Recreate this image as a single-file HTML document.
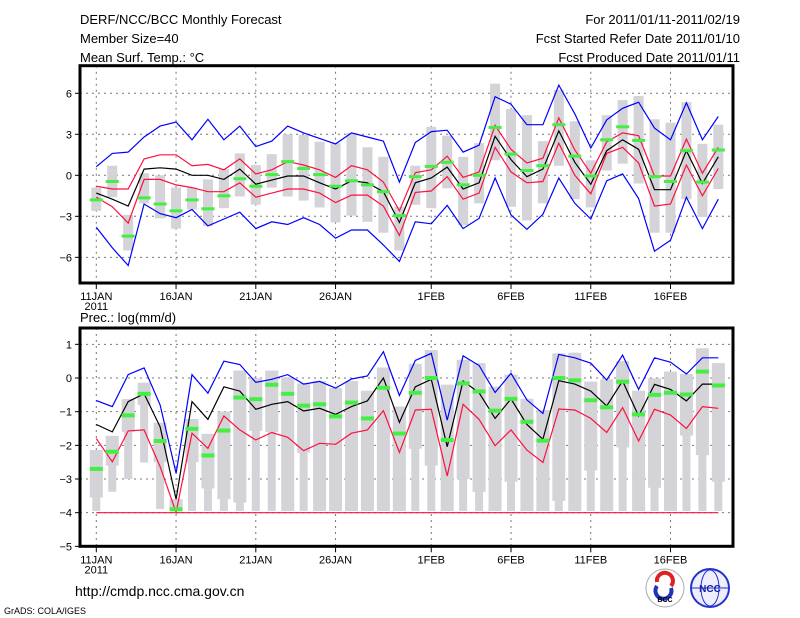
<!DOCTYPE html>
<html><head><meta charset="utf-8"><style>
body{margin:0;background:#fff;}
svg{display:block;font-family:"Liberation Sans",sans-serif;}
</style></head><body>
<svg id="chart" width="800" height="618" viewBox="0 0 800 618" xmlns="http://www.w3.org/2000/svg">
<rect width="800" height="618" fill="#fff"/>
<g font-size="13" fill="#000">
<text x="80" y="24">DERF/NCC/BCC Monthly Forecast</text>
<text x="80" y="43">Member Size=40</text>
<text x="80" y="62">Mean Surf. Temp.: °C</text>
<text x="740" y="24" text-anchor="end">For 2011/01/11-2011/02/19</text>
<text x="740" y="43" text-anchor="end">Fcst Started Refer Date 2011/01/10</text>
<text x="740" y="62" text-anchor="end">Fcst Produced Date 2011/01/11</text>
</g>
<text x="80" y="322" font-size="13">Prec.: log(mm/d)</text>
<g id="top"></g>
<g id="bot"></g>
<text x="75" y="596" font-size="14">http://cmdp.ncc.cma.gov.cn</text>
<text x="4" y="614" font-size="9">GrADS: COLA/IGES</text>
<g>
<circle cx="665" cy="588" r="19" fill="#fff" stroke="#aaa"/>
<path d="M657 582a8 8 0 1 1 14 4" stroke="#d22" stroke-width="4" fill="none"/>
<path d="M671 588a8 8 0 1 1 -14 -2" stroke="#23b" stroke-width="4" fill="none"/>
<text x="665" y="602" font-size="7" text-anchor="middle" font-weight="bold">BCC</text>
</g>
<g>
<circle cx="710" cy="588" r="19" fill="#eef" stroke="#23c" stroke-width="2"/>
<ellipse cx="710" cy="588" rx="9" ry="18" fill="none" stroke="#23c"/>
<line x1="692" y1="588" x2="728" y2="588" stroke="#23c"/>
<text x="710" y="592" font-size="10" text-anchor="middle" fill="#12a" font-weight="bold">NCC</text>
</g>
</svg>
<script>
// ---- Temperature panel data ----
const days = ["11JAN","12","13","14","15","16JAN","17","18","19","20","21JAN","22","23","24","25","26JAN","27","28","29","30","31","1FEB","2","3","4","5","6FEB","7","8","9","10","11FEB","12","13","14","15","16FEB","17","18","19"];
const tBlueHi = [0.63,1.6,1.7,2.8,3.6,3.9,2.6,4.1,2.6,3.6,2.1,2.5,3.6,3.1,2.7,2.3,3.1,2.8,2.5,-0.5,2.4,3.2,3.3,1.7,2.2,5.75,5.2,3.7,3.7,6.6,4.5,2.0,4.05,4.9,5.35,3.45,2.6,5.3,2.6,4.3];
const tBlueLo = [-3.8,-5.3,-6.6,-2.1,-2.8,-3.1,-2.5,-3.7,-3.2,-2.7,-3.9,-3.4,-3.6,-3.1,-3.6,-4.6,-4.0,-4.0,-5.1,-6.3,-3.4,-3.55,-2.2,-3.9,-3.15,-0.2,-2.9,-3.95,-2.85,-0.2,-2.05,-3.2,-0.4,0.1,-1.7,-5.55,-4.75,-1.6,-3.9,-1.75];
const tRedHi = [-0.8,-1.0,-1.0,1.2,1.5,1.5,0.7,0.8,0.4,1.2,0.1,0.4,1.0,0.75,0.4,-0.15,0.7,0.4,-0.5,-2.6,0.2,0.4,1.4,-0.15,0.25,3.65,1.9,0.9,1.25,4.2,1.85,0.15,2.45,3.1,2.9,-0.05,-0.05,2.65,0.15,2.05];
const tRedLo = [-1.6,-2.3,-3.5,-0.3,-0.3,-0.7,-0.9,-1.2,-1.2,-0.55,-1.6,-1.3,-1.0,-1.0,-1.3,-2.0,-1.45,-1.45,-2.25,-4.4,-1.25,-1.15,-0.1,-1.75,-1.3,2.05,0.25,-0.55,-0.45,2.35,0,-1.35,1.6,2.05,0.9,-2.25,-2.1,0.75,-1.5,0.5];
const tMean = [-1.3,-1.75,-2.25,0.45,0.55,0.45,0,0,-0.3,0.45,-0.65,-0.35,-0.05,-0.05,-0.55,-1.0,-0.4,-0.55,-1.2,-3.45,-0.55,-0.2,0.6,-1.0,-0.55,2.85,1.15,-0.1,0.45,3.25,0.95,-0.65,1.8,2.6,1.9,-1.05,-1.05,1.8,-0.6,1.35];
const tObs = [-1.8,-0.45,-4.45,-1.65,-2.1,-2.6,-1.8,-2.45,-1.5,-0.25,-0.8,0.05,1.0,0.5,0.05,-0.8,-0.4,-0.7,-1.2,-2.95,-0.1,0.65,0.95,-0.7,0.0,3.5,1.55,0.35,0.7,3.7,1.4,-0.05,2.6,3.55,2.55,-0.1,-0.45,1.8,-0.5,1.85];
const tMax = [-0.9,0.7,-2.9,0.15,0,-0.9,-0.9,-0.3,0.45,1.6,0.75,1.55,3.0,2.95,2.45,2.35,3.1,2.05,1.35,-2.3,0.7,3.55,2.9,1.35,2.35,6.7,4.85,4.4,2.5,6.25,3.95,1.1,4.4,5.5,5.8,4.1,3.85,5.35,2.3,3.7];
const tMin = [-2.6,-1.6,-5.5,-2.05,-3.15,-3.9,-2.5,-3.7,-2.4,-1.55,-2.15,-0.9,-1.55,-1.85,-2.35,-3.45,-2.95,-3.4,-4.2,-5.5,-2.15,-2.4,-0.95,-3.65,-2.05,1.1,-2.3,-3.3,-2.05,0.7,-1.75,-2.35,0.35,0.85,-0.6,-4.2,-4.2,-1.75,-3.05,-1.0];
const tTicks = [-6,-3,0,3,6];
// ---- Precip panel data ----
const pBlue = [-0.67,-0.85,0.1,0.3,-0.8,-2.83,0.1,-0.45,0.5,0.4,-0.13,-0.04,0.1,-0.18,-0.1,-0.3,-0.03,0.06,0.78,-0.52,0.52,0.73,-1.25,0.66,0.37,-0.43,0.14,-0.65,-1.05,0.7,0.6,0.44,-0.06,0.68,-0.34,0.6,0.47,0.12,0.6,0.6];
const pMean = [-1.38,-1.6,-0.7,-0.47,-1.45,-3.6,-0.7,-1.23,-0.26,-0.39,-0.93,-0.78,-0.7,-0.98,-0.9,-1.08,-0.85,-0.68,0.0,-1.32,-0.26,-0.04,-2.04,-0.09,-0.44,-1.2,-0.62,-1.38,-1.82,-0.08,-0.18,-0.39,-0.83,-0.09,-1.13,-0.19,-0.34,-0.68,-0.18,-0.18];
const pRed = [-1.8,-2.49,-1.57,-1.54,-2.63,-3.99,-1.64,-2.09,-1.13,-1.54,-1.84,-1.62,-1.76,-2.16,-1.94,-1.97,-1.64,-1.54,-0.97,-2.21,-0.95,-0.93,-2.91,-0.78,-1.23,-2.01,-1.54,-2.14,-2.51,-0.92,-0.95,-1.2,-1.62,-0.88,-1.87,-0.93,-1.1,-1.5,-0.85,-0.9];
const pObs = [-2.7,-2.19,-1.11,-0.47,-1.87,-3.9,-1.51,-2.3,-1.56,-0.58,-0.63,-0.2,-0.47,-0.82,-0.78,-1.14,-0.73,-1.2,-0.29,-1.65,-0.44,0.0,-1.84,-0.16,-0.4,-0.97,-0.62,-1.3,-1.86,0.0,-0.07,-0.66,-0.87,-0.11,-1.08,-0.5,-0.44,-0.49,0.19,-0.22];
const pMax = [-2.14,-1.72,-0.63,-0.14,-1.33,-3.6,-1.22,-1.66,-1.0,0.22,0,0.22,0.02,-0.16,-0.09,-0.3,-0.09,-0.38,0.31,-0.85,0.42,0.83,-0.2,0.54,0.44,-0.26,0.1,-0.62,-0.95,0.73,0.75,-0.11,-0.04,0.5,-0.38,-0.01,0.19,0.12,0.88,0.44];
const pMin = [-3.95,-3.38,-3.0,-2.51,-3.89,-3.95,-3.95,-3.95,-3.95,-3.95,-3.95,-3.95,-3.95,-3.95,-3.95,-3.95,-3.95,-3.95,-3.95,-3.95,-3.95,-3.95,-3.95,-3.95,-3.95,-3.95,-3.95,-3.95,-3.95,-3.95,-3.95,-3.95,-3.95,-3.95,-3.95,-3.95,-3.95,-3.95,-3.95,-3.95];
const pQ1 = [-3.55,-2.6,-1.6,-0.8,-2.5,-3.95,-2.5,-3.28,-3.6,-3.7,-1.57,-1.6,-3.95,-2.22,-3.95,-3.95,-3.95,-3.95,-3.95,-3.95,-2.1,-2.6,-3.95,-3.0,-3.38,-3.95,-3.08,-3.95,-3.95,-3.65,-3.95,-2.75,-3.95,-2.06,-3.95,-3.26,-3.95,-1.71,-2.29,-3.08];
const pTicks = [-5,-4,-3,-2,-1,0,1];
const dateLabels = ["11JAN","16JAN","21JAN","26JAN","1FEB","6FEB","11FEB","16FEB"];
const dateIdx = [0,5,10,15,21,26,31,36];

const NS="http://www.w3.org/2000/svg";
const X0=80, X1=733;
function xs(i){return 96.3+15.95*i;}
function mk(tag,attrs,parent){const e=document.createElementNS(NS,tag);for(const k in attrs)e.setAttribute(k,attrs[k]);parent.appendChild(e);return e;}

function panel(g, ys, top, bot, ticks, name){
  // grid
  for(let k=0;k<dateIdx.length;k++){
    const l=mk('line',{x1:xs(dateIdx[k]),x2:xs(dateIdx[k]),y1:top,y2:bot,stroke:'#777','stroke-dasharray':'2,4'},g);
    
    
  }
  for(const t of ticks){
    if(ys(t)<=top+1||ys(t)>=bot-1) { } else {
      const l=mk('line',{x1:X0,x2:X1,y1:ys(t),y2:ys(t),stroke:'#777','stroke-dasharray':'2,4'},g);
      
      
    }
    const tk=mk('line',{x1:X0-5,x2:X0,y1:ys(t),y2:ys(t),stroke:'#000'},g);
    
    
    const tx=mk('text',{x:X0-8,y:ys(t)+4,'text-anchor':'end','font-size':'11'},g);
    tx.textContent=(t<0?'\u2212'+(-t):String(t));
    
    
  }
  for(let k=0;k<dateIdx.length;k++){
    const x=xs(dateIdx[k]);
    const tk=mk('line',{x1:x,x2:x,y1:bot,y2:bot+6,stroke:'#000'},g);
    
    
    const tx=mk('text',{x:x,y:bot+17,'text-anchor':'middle','font-size':'11'},g);
    tx.textContent=dateLabels[k];
    
    
  }
  const yr=mk('text',{x:xs(0),y:bot+27,'text-anchor':'middle','font-size':'11'},g);
  yr.textContent='2011';
  
  
}
function line(g,arr,ys,color,name){
  const p=arr.map((v,i)=>xs(i).toFixed(1)+','+ys(v).toFixed(1)).join(' ');
  const e=mk('polyline',{points:p,fill:'none',stroke:color,'stroke-width':1.2},g);
  
  
}
function frame(g,top,bot){
  const f=mk('rect',{x:X0,y:top,width:X1-X0,height:bot-top,fill:'none',stroke:'#000','stroke-width':3},g);
  
  
}

// top panel
const gT=document.getElementById('top');
const TT=65.7, TB=283;
function yT(v){return 175.3-13.67*v;}
panel(gT,yT,TT,TB,tTicks,'temp');
for(let i=0;i<days.length;i++){
  const r=mk('rect',{x:xs(i)-5,y:yT(tMax[i]),width:10,height:yT(tMin[i])-yT(tMax[i]),fill:'#d3d3d8'},gT);
  
  
}
line(gT,tBlueHi,yT,'#0000ff','temp-upper-bound');
line(gT,tBlueLo,yT,'#0000ff','temp-lower-bound');
line(gT,tRedHi,yT,'#ff1040','temp-upper-spread');
line(gT,tRedLo,yT,'#ff1040','temp-lower-spread');
line(gT,tMean,yT,'#000000','temp-ensemble-mean');
for(let i=0;i<days.length;i++){
  const r=mk('rect',{x:xs(i)-6.5,y:yT(tObs[i])-1.5,width:13,height:3,fill:'#44ee44'},gT);
  
  
}
frame(gT,TT,TB);

// bottom panel
const gB=document.getElementById('bot');
const BT=328, BB=546.3;
function yB(v){return 378-33.67*v;}
panel(gB,yB,BT,BB,pTicks,'prec');
for(let i=0;i<days.length;i++){
  const r=mk('rect',{x:xs(i)-4,y:yB(pMax[i]),width:8,height:yB(pMin[i])-yB(pMax[i]),fill:'#d3d3d8'},gB);
  
  
  const q=mk('rect',{x:xs(i)-6.5,y:yB(pMax[i]),width:13,height:yB(pQ1[i])-yB(pMax[i]),fill:'#d3d3d8'},gB);
  
  
}
const fl=mk('line',{x1:xs(0),x2:xs(39),y1:yB(-4),y2:yB(-4),stroke:'#ff1040','stroke-width':1.2},gB);


line(gB,pBlue,yB,'#0000ff','prec-upper-bound');
line(gB,pRed,yB,'#ff1040','prec-lower-spread');
line(gB,pMean,yB,'#000000','prec-ensemble-mean');
for(let i=0;i<days.length;i++){
  const r=mk('rect',{x:xs(i)-6.5,y:yB(pObs[i])-2,width:13,height:4,fill:'#44ee44'},gB);
  
  
}
frame(gB,BT,BB);
</script>
</body></html>
